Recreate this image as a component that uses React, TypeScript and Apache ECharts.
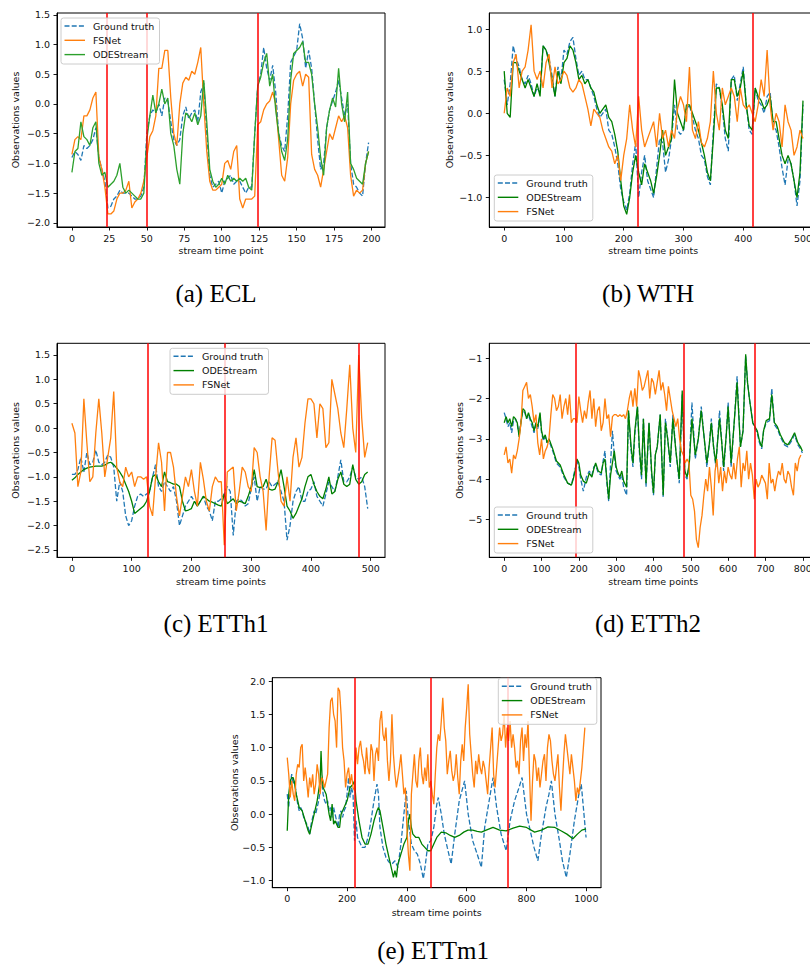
import React, { useEffect, useRef } from "react";
import * as echarts from "echarts";

// ---------------- (a) ECL : values every 2 time points (t = 0..198)
const ECL_STEP = 2;
const ECL_GROUND_TRUTH = [
  -0.9, -0.8, -0.85, -0.95, -0.7, -0.75, -0.7, -0.6, -0.4, -0.9,
  -1.1, -1.3, -1.75, -1.72, -1.6, -1.55, -1.45, -1.5, -1.5, -1.5,
  -1.55, -1.6, -1.6, -1.55, -1.4, -0.5, -0.2, -0.1, -0.15, 0.0,
  -0.2, 0.1, 0.05, -0.3, -0.6, -0.7, -0.6, -0.2, -0.05, -0.25,
  -0.15, -0.1, -0.3, 0.2, 0.35, -0.5, -1.2, -1.4, -1.35, -1.3,
  -1.5, -1.3, -1.25, -1.2, -1.35, -1.3, -1.3, -1.4, -1.5, -1.4,
  -1.4, -0.5, 0.3, 0.5, 0.95, 0.6, 0.4, 0.65, 0.2, -0.5,
  -0.7, -0.8, -0.2, 0.7, 0.8, 0.9, 1.35, 1.1, 0.6, 0.9,
  0.6, 0.0, -0.6, -1.1, -1.0, -0.4, -0.1, 0.05, 0.2, 0.4,
  0.1, -0.2, 0.0, -1.0, -1.35, -1.4, -1.5, -1.55, -1.0, -0.65,
];
const ECL_FSNET = [
  -0.85, -0.6, -0.55, -0.6, -0.2, -0.2, -0.1, 0.1, 0.2, -0.9,
  -1.1, -1.4, -1.85, -1.85, -1.8, -1.6, -1.5, -1.5, -1.45, -1.3,
  -1.75, -1.65, -1.6, -1.5, -1.3, -0.9, -0.55, -0.45, -0.2, 0.6,
  0.6, 0.9, 0.9, 0.1, -0.5, -0.7, 0.0, 0.35, 0.45, 0.4,
  0.55, 0.5, 0.7, 0.95, 0.0, -0.8, -1.3, -1.45, -1.45, -1.4,
  -1.35, -1.0, -0.95, -1.1, -0.8, -0.7, -1.6, -1.75, -1.6, -1.6,
  -1.6, -1.55, -0.35, -0.3, -0.1, 0.0, 0.05, 0.2, 0.0, -0.6,
  -1.2, -1.3, -0.9, 0.0, 0.4, 0.5, 0.55, 0.3, 0.5, 0.45,
  -0.85, -1.1, -1.2, -1.4, -1.1, -0.8, -0.5, -0.6, -0.4, -0.2,
  -0.3, -0.2, -0.4, -1.2, -1.55, -1.45, -1.5, -1.45, -1.0, -0.8,
];
const ECL_ODESTREAM = [
  -1.15, -0.8, -0.75, -0.3, -0.55, -0.6, -0.7, -0.4, -0.3, -1.0,
  -1.2, -1.15, -1.4, -1.35, -1.3, -1.2, -1.0, -1.4, -1.5, -1.45,
  -1.5, -1.55, -1.6, -1.6, -1.5, -0.6, -0.2, 0.15, -0.15, 0.0,
  0.25, 0.0, 0.1, -0.5, -0.7, -1.1, -1.35, -0.5, -0.15, -0.2,
  -0.3, -0.15, -0.35, -0.2, 0.4, -0.3, -1.1, -1.3, -1.4, -1.35,
  -1.25, -1.35, -1.2, -1.3, -1.25, -1.3, -1.25, -1.3, -1.25, -1.4,
  -1.45, -0.5, 0.3, 0.45, 0.7, 0.85, 0.3, 0.5, -0.1, -0.5,
  -0.8, -0.95, -0.6, 0.4, 0.85, 0.9, 0.95, 1.05, 0.7, 0.7,
  0.5, 0.0, -0.4, -0.9, -1.2, -0.4, -0.1, 0.1, -0.05, 0.6,
  0.0, -0.3, 0.2, -1.0, -1.1, -1.25, -1.3, -1.35, -1.0, -0.8,
];
const ECL_DRIFTS = [23.5, 50, 124];
const ECL_X_TICKS = [0, 25, 50, 75, 100, 125, 150, 175, 200];
const ECL_Y_TICKS = [-2.0, -1.5, -1.0, -0.5, 0.0, 0.5, 1.0, 1.5];

// ---------------- (b) WTH : values every 5 time points (t = 0..500)
const WTH_STEP = 5;
const WTH_GROUND_TRUTH = [
  0.4, 0.1, 0.35, 0.8, 0.65, 0.55, 0.4, 0.35, 0.45, 0.35,
  0.2, 0.3, 0.25, 0.8, 0.75, 0.65, 0.45, 0.2, 0.55, 0.4,
  0.75, 0.7, 0.85, 0.9, 0.65, 0.45, 0.5, 0.4, 0.4, 0.3,
  0.2, 0.05, -0.05, 0.0, 0.05, -0.2, -0.25, -0.4, -0.6, -0.9,
  -1.05, -1.15, -0.95, -0.6, -0.35, -1.0, -0.7, -0.5, -0.8, -0.9,
  -1.0, -0.65, -0.3, -0.35, -0.7, -0.55, -0.3, 0.1, -0.2, -0.25,
  -0.2, 0.05, 0.1, -0.05, -0.2, -0.3, -0.5, -0.55, -0.75, -0.85,
  -0.2, 0.35, 0.3, 0.05, -0.3, -0.45, 0.4, 0.45, 0.15, 0.35,
  0.55, 0.1, -0.2, -0.25, 0.3, 0.15, 0.1, 0.0, 0.2, 0.25,
  -0.15, -0.2, -0.4, -0.65, -0.85, -0.55, -0.6, -0.8, -1.1, -0.8,
  0.1,
];
const WTH_ODESTREAM = [
  0.5, 0.0, -0.05, 0.6, 0.6, 0.5, 0.4, 0.3, 0.4, 0.3,
  0.2, 0.35, 0.2, 0.8, 0.75, 0.6, 0.4, 0.2, 0.5, 0.35,
  0.6, 0.65, 0.8, 0.75, 0.6, 0.4, 0.45, 0.35, 0.4, 0.3,
  0.25, 0.1, 0.0, 0.05, 0.1, -0.05, -0.1, -0.25, -0.45, -0.8,
  -1.1, -1.2, -1.0, -0.7, -0.5, -0.7, -0.85, -0.6, -0.7, -0.8,
  -0.95, -0.75, -0.5, -0.2, -0.5, -0.4, -0.3, 0.4, 0.0, -0.1,
  -0.2, 0.1, 0.1, 0.0, -0.1, -0.2, -0.35, -0.5, -0.7, -0.8,
  -0.3, 0.3, 0.3, 0.1, -0.2, -0.3, 0.4, 0.4, 0.2, 0.3,
  0.5, 0.1, -0.15, -0.2, 0.3, 0.2, 0.15, 0.05, 0.1, 0.2,
  -0.1, -0.1, -0.3, -0.5, -0.6, -0.5, -0.6, -0.8, -1.0, -0.7,
  0.15,
];
const WTH_FSNET = [
  0.0, 0.3, 0.2, 0.6, 0.7, 0.3, 0.5, 0.55, 0.75, 1.05,
  0.5, 0.4, 0.5, 0.3, 0.6, 0.7, 0.3, 0.55, 0.35, 0.4,
  0.5, 0.45, 0.3, 0.25, 0.3, 0.4, 0.35, 0.2, 0.05, -0.15,
  0.05, 0.0, -0.05, -0.2, -0.3, -0.4, -0.45, -0.6, -0.5, -0.8,
  -0.5, -0.3, 0.1, -0.2, -0.4, 0.2, -0.2, -0.4, -0.3, -0.2,
  -0.1, -0.4, 0.0, -0.3, -0.2, -0.4, -0.2, -0.3, 0.05, 0.2,
  0.1, -0.1, 0.55, -0.2, -0.3, -0.1, -0.35, -0.4, -0.3, -0.1,
  0.5, 0.0, -0.2, 0.3, 0.1, 0.2, 0.3, 0.2, -0.1, 0.3,
  0.1, 0.05, 0.1, 0.0, -0.1, 0.1, 0.4, 0.2, 0.75, 0.1,
  -0.2, 0.0, -0.1, -0.4, 0.1, -0.1, -0.2, -0.5, -0.4, -0.2,
  -0.3,
];
const WTH_DRIFTS = [223.5, 416];
const WTH_X_TICKS = [0, 100, 200, 300, 400, 500];
const WTH_Y_TICKS = [-1.0, -0.5, 0.0, 0.5, 1.0];

// ---------------- (c) ETTh1 : values every 5 time points (t = 0..495)
const ETTH1_STEP = 5;
const ETTH1_GROUND_TRUTH = [
  -0.95, -0.95, -0.85, -0.6, -0.9, -0.5, -0.75, -0.7, -0.45, -0.7,
  -0.75, -0.7, -0.55, -0.6, -0.8, -1.5, -1.1, -1.3, -1.8, -2.0,
  -1.9, -1.6, -1.4, -1.35, -1.4, -1.35, -1.3, -1.0, -0.75, -1.2,
  -1.3, -1.1, -1.2, -1.3, -1.2, -1.5, -2.0, -1.8, -1.6, -1.5,
  -1.4, -1.5, -1.6, -1.5, -1.4, -1.6, -1.7, -1.9, -1.5, -1.5,
  -1.45, -1.35, -1.2, -1.3, -2.2, -1.5, -1.45, -1.5, -1.6, -1.55,
  -1.25, -1.0, -1.5, -1.2, -1.25, -1.25, -1.1, -1.2, -1.15, -1.1,
  -1.3, -1.5, -2.3, -2.0, -1.5, -1.3, -1.2, -1.5, -1.5, -1.3,
  -1.25, -1.1, -1.4, -1.5, -1.6, -1.35, -1.1, -1.2, -1.3, -1.0,
  -0.65, -1.1, -1.1, -1.0, -0.8, -1.0, -1.05, -1.0, -1.2, -1.65,
];
const ETTH1_ODESTREAM = [
  -1.07, -1.02, -0.95, -0.9, -0.85, -0.82, -0.8, -0.79, -0.78, -0.78,
  -0.78, -0.76, -0.72, -0.7, -0.75, -0.82, -0.9, -1.0, -1.15, -1.3,
  -1.5, -1.75, -1.7, -1.65, -1.6, -1.5, -1.3, -1.0, -0.95, -1.1,
  -1.2, -0.9, -1.1, -1.12, -1.15, -1.15, -1.2, -1.5, -1.7, -1.68,
  -1.65, -1.5, -1.6, -1.5, -1.4, -1.45, -1.5, -1.52, -1.55, -1.58,
  -1.6, -1.35, -1.55, -1.5, -1.45, -1.55, -1.5, -1.52, -1.55, -1.4,
  -1.2, -0.85, -1.2, -1.22, -1.2, -1.05, -1.25, -1.27, -1.25, -1.1,
  -0.85, -1.2, -1.6, -1.7, -1.85, -1.75, -1.6, -1.45, -1.2, -1.0,
  -0.95, -1.15, -1.3, -1.4, -1.45, -1.25, -1.0, -1.35, -1.3, -1.05,
  -0.9, -1.15, -1.2, -1.15, -0.75, -1.05, -1.15, -1.1, -0.95, -0.9,
];
const ETTH1_FSNET = [
  0.1, -0.1, -1.2, -0.9, 0.6, -0.3, -1.1, -1.0, -0.1, 0.6,
  -0.1, -1.0, -0.6, -0.2, 0.75, -0.8, -1.1, -1.2, -0.8, -1.0,
  -0.9, -1.2, -1.0, -1.0, -1.05, -1.0, -1.6, -1.8, -1.0, -0.3,
  -0.7, -1.7, -0.5, -0.5, -0.8, -1.4, -1.8, -1.4, -1.0, -1.2,
  -0.85, -1.3, -1.6, -0.7, -1.05, -1.5, -1.7, -1.2, -1.0, -1.1,
  -1.1, -2.4, -0.9, -0.85, -0.8, -1.7, -1.3, -0.8, -0.9, -1.2,
  -1.3, -0.4, -0.5, -1.0, -1.3, -2.1, -1.0, -0.2, -0.25, -0.9,
  -1.5, -1.6, -1.0, -1.5, -0.6, -0.2, -0.8, -0.6, 0.1, 0.6,
  0.6, 0.5, -0.2, 0.5, 0.4, -0.4, -0.3, 1.0, 0.7, 0.4,
  -0.1, -0.4, 0.4, 1.3, 0.0, -0.5, 1.5, 0.2, -0.6, -0.3,
];
const ETTH1_DRIFTS = [127.5, 255.5, 479.5];
const ETTH1_X_TICKS = [0, 100, 200, 300, 400, 500];
const ETTH1_Y_TICKS = [-2.5, -2.0, -1.5, -1.0, -0.5, 0.0, 0.5, 1.0, 1.5];

// ---------------- (d) ETTh2 : [time point, value]
const ETTH2_GROUND_TRUTH = [
  [0, -2.35], [5, -2.5], [10, -2.7], [15, -2.6], [20, -2.85], [25, -2.55], [30, -2.5], [35, -2.65], [40, -2.9], [45, -2.55],
  [50, -2.3], [55, -2.35], [60, -2.5], [65, -2.4], [70, -2.55], [75, -2.7], [80, -2.85], [85, -2.65], [90, -2.75], [96, -2.4],
  [100, -2.85], [105, -3.05], [110, -2.95], [115, -3.1], [120, -3.05], [130, -3.3], [140, -3.6], [150, -3.7], [160, -3.95], [170, -4.1],
  [180, -4.15], [185, -3.95], [190, -3.75], [195, -3.55], [200, -3.7], [205, -4.0], [212, -4.3], [220, -3.95], [228, -3.8], [235, -3.9],
  [240, -3.7], [245, -3.65], [252, -3.85], [260, -3.9], [265, -3.55], [270, -3.3], [275, -4.1], [280, -4.55], [285, -3.6], [290, -2.8],
  [295, -3.4], [300, -3.8], [305, -3.9], [310, -4.0], [315, -3.9], [320, -4.2], [328, -4.4], [333, -2.3], [340, -3.3], [345, -3.7],
  [350, -2.9], [357, -2.2], [362, -3.3], [368, -4.0], [373, -2.5], [380, -4.2], [388, -2.6], [395, -3.9], [400, -4.4], [405, -3.4],
  [410, -3.2], [418, -2.4], [426, -4.45], [432, -2.5], [438, -3.0], [445, -3.7], [452, -2.4], [460, -3.3], [469, -4.1], [477, -1.9],
  [484, -3.9], [490, -4.0], [496, -3.6], [503, -2.1], [512, -3.5], [520, -3.0], [528, -2.2], [535, -2.9], [543, -3.7], [550, -3.1],
  [555, -2.5], [561, -3.2], [567, -3.7], [577, -2.3], [583, -3.1], [588, -3.8], [595, -2.9], [600, -2.1], [608, -3.7], [617, -2.5],
  [624, -1.45], [633, -3.2], [640, -2.8], [647, -0.95], [652, -1.6], [657, -2.0], [666, -2.6], [672, -2.75], [678, -2.85], [684, -3.1],
  [690, -3.25], [695, -2.8], [702, -2.6], [711, -2.55], [717, -1.75], [724, -2.65], [732, -2.75], [740, -2.95], [751, -3.15], [760, -3.2],
  [770, -3.05], [778, -2.9], [787, -3.15], [794, -3.25], [799, -3.35],
];
const ETTH2_ODESTREAM = [
  [0, -2.6], [5, -2.45], [10, -2.6], [15, -2.5], [20, -2.7], [25, -2.45], [30, -2.5], [35, -2.6], [40, -2.95], [45, -2.6],
  [50, -2.25], [55, -2.3], [60, -2.5], [65, -2.35], [70, -2.5], [75, -2.6], [80, -2.8], [85, -2.6], [90, -2.7], [96, -2.35],
  [100, -2.8], [105, -3.0], [110, -2.9], [115, -3.1], [120, -3.0], [130, -3.25], [140, -3.55], [150, -3.65], [160, -3.9], [170, -4.1],
  [180, -4.15], [185, -4.0], [190, -3.8], [195, -3.5], [200, -3.6], [205, -3.9], [212, -4.05], [220, -4.1], [228, -3.85], [235, -3.95],
  [240, -3.75], [245, -3.6], [252, -3.8], [260, -3.85], [265, -3.6], [270, -3.5], [275, -4.0], [280, -4.5], [285, -3.9], [290, -3.6],
  [295, -3.3], [300, -3.7], [305, -3.85], [310, -3.95], [315, -3.8], [320, -4.05], [328, -4.2], [333, -2.3], [340, -3.2], [345, -3.6],
  [350, -2.8], [357, -2.2], [362, -3.2], [368, -3.9], [373, -2.5], [380, -4.1], [388, -2.6], [395, -3.8], [400, -4.35], [405, -3.4],
  [410, -3.2], [418, -2.4], [426, -4.4], [432, -2.6], [438, -3.0], [445, -3.6], [452, -2.5], [460, -3.3], [469, -4.0], [477, -1.8],
  [484, -3.8], [490, -3.95], [496, -3.6], [503, -2.5], [512, -3.4], [520, -3.0], [528, -2.3], [535, -2.9], [543, -3.6], [550, -3.1],
  [555, -2.6], [561, -3.2], [567, -3.6], [577, -2.5], [583, -3.1], [588, -3.7], [595, -2.9], [600, -2.2], [608, -3.6], [617, -2.5],
  [624, -1.6], [633, -3.2], [640, -2.8], [647, -0.9], [652, -1.6], [657, -2.0], [666, -2.6], [672, -2.7], [678, -2.8], [684, -3.05],
  [690, -3.2], [695, -2.8], [702, -2.55], [711, -2.5], [717, -1.9], [724, -2.6], [732, -2.7], [740, -2.9], [751, -3.1], [760, -3.15],
  [770, -3.0], [778, -2.85], [787, -3.1], [794, -3.2], [799, -3.3],
];
const ETTH2_FSNET_STEP = 5;
const ETTH2_FSNET = [
  -3.4, -3.2, -3.6, -3.5, -3.85, -3.4, -3.5, -3.3, -3.0, -2.6,
  -1.8, -1.7, -1.6, -2.0, -1.9, -2.2, -2.6, -2.4, -3.1, -3.4,
  -3.0, -3.5, -3.3, -3.2, -3.0, -2.4, -1.9, -2.0, -2.3, -2.2,
  -1.9, -2.5, -2.2, -2.0, -2.4, -1.9, -2.6, -2.5, -2.5, -2.6,
  -1.95, -2.3, -2.6, -2.3, -2.5, -2.1, -1.8, -2.5, -2.0, -2.7,
  -2.3, -2.2, -2.8, -2.6, -2.0, -2.5, -2.4, -2.95, -2.45, -2.4,
  -2.4, -2.45, -2.4, -2.45, -2.4, -2.5, -2.3, -2.0, -1.8, -2.2,
  -1.75, -2.2, -1.3, -1.5, -1.8, -1.7, -1.5, -1.3, -2.0, -1.5,
  -1.6, -1.9, -1.6, -1.3, -1.8, -1.6, -1.9, -2.3, -1.7, -2.0,
  -2.3, -2.5, -2.7, -2.5, -3.0, -3.3, -3.4, -3.6, -3.5, -3.6,
  -4.4, -4.5, -4.8, -5.5, -5.7, -5.2, -4.9, -4.4, -4.0, -4.3,
  -3.7, -4.2, -4.9, -3.8, -3.5, -4.1, -3.7, -4.3, -3.8, -4.1,
  -3.7, -3.9, -4.0, -3.6, -4.0, -3.5, -3.2, -4.2, -3.6, -3.8,
  -3.3, -4.0, -3.6, -3.9, -4.5, -4.0, -4.2, -4.1, -3.9, -4.0,
  -4.1, -4.5, -3.6, -4.1, -4.0, -4.3, -4.0, -3.8, -3.9, -3.6,
  -4.0, -4.1, -3.8, -3.9, -4.2, -4.4, -3.6, -3.8, -3.5, -3.4,
];
const ETTH2_DRIFTS = [192.5, 480.5, 672];
const ETTH2_X_TICKS = [0, 100, 200, 300, 400, 500, 600, 700, 800];
const ETTH2_Y_TICKS = [-5, -4, -3, -2, -1];

// ---------------- (e) ETTm1
const ETTM1_GROUND_TRUTH = [
  [0, 0.3], [5, 0.1], [10, 0.45], [15, 0.6], [20, 0.45], [25, 0.5], [30, 0.3], [35, 0.15], [40, 0.05], [45, 0.1],
  [50, 0.05], [55, -0.05], [60, -0.1], [65, -0.15], [70, -0.2], [75, -0.3], [80, -0.15], [85, -0.05], [90, 0.05], [95, 0.0],
  [100, 0.1], [105, 0.2], [110, 0.35], [115, 0.55], [120, 0.3], [125, 0.2], [130, 0.15], [135, 0.2], [140, 0.05], [145, 0.1],
  [150, -0.05], [155, 0.1], [160, 0.0], [165, -0.1], [170, -0.2], [175, 0.0], [180, 0.05], [185, -0.05], [190, 0.05], [195, 0.1],
  [200, 0.3], [205, 0.55], [210, 0.25], [215, 0.4], [220, 0.3], [225, -0.4], [230, -0.1], [235, -0.35], [240, -0.4], [245, -0.45],
  [250, -0.5], [260, -0.5], [270, -0.35], [280, -0.1], [290, 0.2], [300, 0.45], [305, 0.3], [310, -0.2], [320, -0.5], [330, -0.65],
  [340, -0.72], [350, -0.75], [360, -0.7], [370, -0.8], [380, -0.45], [390, 0.0], [398, 0.35], [405, -0.1], [415, -0.45], [425, -0.55],
  [435, -0.6], [445, -0.75], [455, -0.97], [462, -0.75], [470, -0.45], [480, -0.4], [490, -0.2], [500, 0.15], [505, 0.25], [515, 0.0],
  [525, -0.3], [535, -0.5], [548, -0.75], [560, -0.3], [575, 0.2], [593, 0.5], [605, 0.0], [620, -0.4], [635, -0.6], [649, -0.8],
  [660, -0.2], [675, 0.2], [688, 0.55], [700, 0.1], [715, -0.3], [732, -0.55], [745, -0.1], [760, 0.2], [775, 0.4], [785, 0.55],
  [800, 0.0], [815, -0.3], [825, -0.5], [838, -0.7], [850, -0.3], [865, 0.1], [875, 0.3], [883, 0.5], [895, 0.0], [910, -0.4],
  [920, -0.7], [933, -0.95], [945, -0.6], [960, -0.1], [975, 0.3], [983, 0.45], [990, 0.1], [999, -0.35],
];
const ETTM1_ODESTREAM = [
  [0, -0.25], [5, 0.3], [10, 0.5], [15, 0.55], [20, 0.55], [25, 0.45], [30, 0.3], [40, 0.1], [50, 0.05], [60, -0.1],
  [70, -0.25], [75, -0.3], [80, -0.2], [90, 0.0], [100, 0.2], [110, 0.5], [113, 0.95], [116, 0.6], [120, 0.4], [130, 0.3],
  [140, 0.0], [145, -0.1], [150, 0.15], [155, -0.15], [160, -0.1], [170, -0.2], [175, -0.2], [180, 0.0], [190, 0.1], [200, 0.2],
  [210, 0.4], [220, 0.45], [225, 0.5], [230, 0.2], [240, -0.1], [250, -0.35], [260, -0.45], [270, -0.45], [280, -0.3], [290, -0.1],
  [300, 0.05], [305, 0.1], [310, 0.05], [320, -0.2], [330, -0.45], [340, -0.65], [350, -0.85], [355, -0.95], [360, -0.85], [365, -0.95],
  [370, -0.75], [380, -0.6], [390, -0.45], [400, -0.35], [405, -0.1], [410, 0.0], [415, -0.2], [420, -0.3], [430, -0.35], [440, -0.35],
  [450, -0.45], [460, -0.5], [470, -0.55], [480, -0.55], [490, -0.45], [500, -0.35], [515, -0.27], [530, -0.28], [545, -0.32], [560, -0.35],
  [575, -0.32], [590, -0.27], [604, -0.24], [620, -0.24], [635, -0.26], [649, -0.27], [665, -0.24], [688, -0.2], [710, -0.24], [732, -0.25],
  [755, -0.21], [777, -0.18], [800, -0.2], [827, -0.27], [850, -0.24], [872, -0.19], [895, -0.2], [915, -0.25], [935, -0.3], [955, -0.37],
  [970, -0.3], [985, -0.24], [999, -0.22],
];
const ETTM1_FSNET_STEP = 5;
const ETTM1_FSNET = [
  0.85, 0.6, 0.25, 0.5, 0.3, 0.2, 0.6, 0.75, 0.7, 1.0,
  1.05, 0.5, 0.7, 0.5, 0.25, 0.55, 0.4, 0.6, 0.3, 0.45,
  0.75, 0.6, 0.3, 0.55, 0.5, 0.4, 0.5, 0.6, 1.3, 1.7,
  1.75, 1.5, 1.4, 1.0, 1.9, 1.85, 1.5, 1.0, 0.8, 0.4,
  0.6, 0.7, 0.45, 0.6, 0.4, 0.35, 1.0, 0.75, 1.0, 1.1,
  0.9, 0.8, 0.6, 1.0, 0.7, 0.6, 1.05, 0.95, 0.5, 0.9,
  1.0, 0.8, 1.4, 1.55, 1.2, 1.1, 1.3, 0.8, 0.5, 0.8,
  1.5, 0.9, 0.6, 0.4, 0.55, 0.7, 0.9, 0.6, 0.3, 0.4,
  -0.2, -0.6, -0.85, 0.3, 0.6, 0.9, 0.5, 0.4, 0.8, 1.0,
  0.6, 0.45, 0.7, 0.5, 0.9, 0.4, 0.5, 0.3, 0.15, 0.6,
  1.0, 1.2, 1.1, 1.4, 1.75, 1.3, 1.1, 0.6, 0.8, 0.95,
  0.65, 0.5, 0.6, 0.9, 0.55, 0.3, 0.8, 1.05, 0.8, 1.3,
  1.6, 1.95, 1.2, 0.9, 0.6, 0.4, 0.8, 0.6, 0.9, 0.7,
  0.6, 0.8, 0.7, 0.5, 0.3, 0.7, 1.0, 1.3, 0.6, 0.4,
  0.7, 1.0, 1.3, 1.1, 1.2, 1.5, 1.0, 1.3, 1.1, 1.4,
  1.0, 1.2, 1.0, 0.7, 0.8, 0.6, 1.1, 1.3, 0.8, 1.2,
  1.0, 1.4, 0.6, -0.1, 0.5, 0.9, 0.8, 0.5, 0.7, 0.4,
  0.6, 0.8, 0.9, 0.5, 1.0, 1.2, 1.1, 0.8, 0.6, 0.5,
  0.7, 0.9, 0.4, 0.05, 0.5, 0.9, 1.2, 1.0, 0.8, 0.6,
  0.9, 0.7, 0.5, 0.2, 0.4, 0.3, 0.5, 0.7, 1.0, 1.3,
];
const ETTM1_DRIFTS = [225, 480, 736];
const ETTM1_X_TICKS = [0, 200, 400, 600, 800, 1000];
const ETTM1_Y_TICKS = [-1.0, -0.5, 0.0, 0.5, 1.0, 1.5, 2.0];

// ---------------- labels
const LABEL_GT = "Ground truth";
const LABEL_FS = "FSNet";
const LABEL_ODE = "ODEStream";
const Y_NAME = "Observations values";

const onGrid = (values: number[], step: number) => values.map((v, i) => [i * step, v]);

const BLUE = "#1f77b4";
const ORANGE = "#ff7f0e";
const GREEN_A = "#2ca02c";
const GREEN = "#008000";
const RED = "#ff0000";
const SANS = "DejaVu Sans";
const SERIF = "'Liberation Serif', 'DejaVu Serif', serif";

const fmt = (dec: number) => (v: number) => {
  const s = Math.abs(v).toFixed(dec);
  return (v < -1e-9 ? "\u2212" : "") + s;
};

type S = { name: string; data: number[][]; color: string; dashed?: boolean };
type Panel = {
  caption: string; captionPos: number[];
  xName: string; xNameY: number; yNameX: number;
  box: { left: number; top: number; width: number; height: number };
  xRange: number[]; yRange: number[];
  xTicks: number[]; yTicks: number[]; yDec: number;
  drifts: number[]; legend: number[]; series: S[];
};

const PANELS: Panel[] = [
  {
    caption: "(a) ECL", captionPos: [216, 293], xName: "stream time point", xNameY: 250, yNameX: 15,
    box: { left: 57, top: 13, width: 328, height: 214 },
    xRange: [-9.95, 208.95], yRange: [-2.07, 1.53], xTicks: ECL_X_TICKS, yTicks: ECL_Y_TICKS, yDec: 1,
    drifts: ECL_DRIFTS, legend: [61, 18],
    series: [
      { name: LABEL_GT, data: onGrid(ECL_GROUND_TRUTH, ECL_STEP), color: BLUE, dashed: true },
      { name: LABEL_FS, data: onGrid(ECL_FSNET, ECL_STEP), color: ORANGE },
      { name: LABEL_ODE, data: onGrid(ECL_ODESTREAM, ECL_STEP), color: GREEN_A },
    ],
  },
  {
    caption: "(b) WTH", captionPos: [648, 293], xName: "stream time points", xNameY: 250.5, yNameX: 449.5,
    box: { left: 489.3, top: 13, width: 328, height: 214 },
    xRange: [-24.95, 523.95], yRange: [-1.35, 1.19], xTicks: WTH_X_TICKS, yTicks: WTH_Y_TICKS, yDec: 1,
    drifts: WTH_DRIFTS, legend: [494.3, 175],
    series: [
      { name: LABEL_GT, data: onGrid(WTH_GROUND_TRUTH, WTH_STEP), color: BLUE, dashed: true },
      { name: LABEL_ODE, data: onGrid(WTH_ODESTREAM, WTH_STEP), color: GREEN },
      { name: LABEL_FS, data: onGrid(WTH_FSNET, WTH_STEP), color: ORANGE },
    ],
  },
  {
    caption: "(c) ETTh1", captionPos: [216, 623], xName: "stream time points", xNameY: 581.5, yNameX: 15,
    box: { left: 57, top: 343.3, width: 328, height: 214 },
    xRange: [-24.95, 523.95], yRange: [-2.65, 1.74], xTicks: ETTH1_X_TICKS, yTicks: ETTH1_Y_TICKS, yDec: 1,
    drifts: ETTH1_DRIFTS, legend: [170, 348.3],
    series: [
      { name: LABEL_GT, data: onGrid(ETTH1_GROUND_TRUTH, ETTH1_STEP), color: BLUE, dashed: true },
      { name: LABEL_ODE, data: onGrid(ETTH1_ODESTREAM, ETTH1_STEP), color: GREEN },
      { name: LABEL_FS, data: onGrid(ETTH1_FSNET, ETTH1_STEP), color: ORANGE },
    ],
  },
  {
    caption: "(d) ETTh2", captionPos: [648, 623], xName: "stream time points", xNameY: 581.5, yNameX: 459,
    box: { left: 489.3, top: 343.3, width: 328, height: 214 },
    xRange: [-39.95, 838.95], yRange: [-5.94, -0.63], xTicks: ETTH2_X_TICKS, yTicks: ETTH2_Y_TICKS, yDec: 0,
    drifts: ETTH2_DRIFTS, legend: [494.3, 507],
    series: [
      { name: LABEL_GT, data: ETTH2_GROUND_TRUTH, color: BLUE, dashed: true },
      { name: LABEL_ODE, data: ETTH2_ODESTREAM, color: GREEN },
      { name: LABEL_FS, data: onGrid(ETTH2_FSNET, ETTH2_FSNET_STEP), color: ORANGE },
    ],
  },
  {
    caption: "(e) ETTm1", captionPos: [433, 950.5], xName: "stream time points", xNameY: 912, yNameX: 234.3,
    box: { left: 272.3, top: 677.7, width: 328.7, height: 210 },
    xRange: [-49.95, 1048.95], yRange: [-1.105, 2.05], xTicks: ETTM1_X_TICKS, yTicks: ETTM1_Y_TICKS, yDec: 1,
    drifts: ETTM1_DRIFTS, legend: [498.3, 678.3],
    series: [
      { name: LABEL_GT, data: ETTM1_GROUND_TRUTH, color: BLUE, dashed: true },
      { name: LABEL_ODE, data: ETTM1_ODESTREAM, color: GREEN },
      { name: LABEL_FS, data: onGrid(ETTM1_FSNET, ETTM1_FSNET_STEP), color: ORANGE },
    ],
  },
];

const DASH = [5, 2.2];

export default function App() {
  const ref = useRef<HTMLDivElement>(null);
  useEffect(() => {
    if (!ref.current) return;
    const chart = echarts.init(ref.current, undefined, { renderer: "svg" });
    const grids: any[] = [];
    const xAxes: any[] = [];
    const yAxes: any[] = [];
    const series: any[] = [];
    const graphics: any[] = [];

    PANELS.forEach((p, i) => {
      const b = p.box;
      grids.push({ left: b.left, top: b.top, width: b.width, height: b.height, show: true, borderColor: "#000", borderWidth: 1, backgroundColor: "transparent" });
      const tickStyle = { color: "#000", width: 0.9 };
      xAxes.push({
        type: "value", gridIndex: i, min: p.xRange[0], max: p.xRange[1],
        axisLine: { show: true, onZero: false, lineStyle: { color: "#000", width: 1 } },
        axisTick: { show: true, customValues: p.xTicks, length: 3.5, lineStyle: tickStyle },
        axisLabel: { show: true, customValues: p.xTicks, margin: 6, fontFamily: SANS, fontSize: 9.5, color: "#111", formatter: (v: number) => fmt(0)(v) },
        splitLine: { show: false },
      });
      yAxes.push({
        type: "value", gridIndex: i, min: p.yRange[0], max: p.yRange[1],
        axisLine: { show: true, onZero: false, lineStyle: { color: "#000", width: 1 } },
        axisTick: { show: true, customValues: p.yTicks, length: 3.5, lineStyle: tickStyle },
        axisLabel: { show: true, customValues: p.yTicks, margin: 7, fontFamily: SANS, fontSize: 9.5, color: "#111", formatter: (v: number) => fmt(p.yDec)(v) },
        splitLine: { show: false },
      });
      p.series.forEach((s, j) => {
        const item: any = {
          type: "line", name: s.name, xAxisIndex: i, yAxisIndex: i, data: s.data,
          showSymbol: false, symbol: "none", silent: true, z: 2 + j,
          lineStyle: { color: s.color, width: 1.3, type: s.dashed ? DASH : "solid" },
          itemStyle: { color: s.color }, emphasis: { disabled: true },
        };
        if (j === p.series.length - 1) {
          item.markLine = {
            silent: true, symbol: ["none", "none"], label: { show: false }, animation: false,
            lineStyle: { color: RED, width: 1.5, type: "solid" }, emphasis: { disabled: true },
            data: p.drifts.map((d) => ({ xAxis: d })),
          };
        }
        series.push(item);
      });

      // legend
      const [lx, ly] = p.legend;
      graphics.push({ type: "rect", z: 100, shape: { x: lx, y: ly, width: 98.5, height: 46, r: 2.5 }, style: { fill: "rgba(255,255,255,0.8)", stroke: "#cccccc", lineWidth: 1 } });
      p.series.forEach((s, j) => {
        const yy = ly + 8 + j * 14.3;
        graphics.push({ type: "line", z: 101, shape: { x1: lx + 3.5, y1: yy, x2: lx + 24, y2: yy }, style: { stroke: s.color, lineWidth: 1.4, lineDash: s.dashed ? DASH : null } });
        graphics.push({ type: "text", z: 101, x: lx + 32, y: yy, style: { text: s.name, fontFamily: SANS, fontSize: 9.5, fill: "#111", align: "left", verticalAlign: "middle" } });
      });
      // axis names
      graphics.push({ type: "text", z: 101, x: b.left + b.width / 2, y: p.xNameY, style: { text: p.xName, fontFamily: SANS, fontSize: 9.5, fill: "#111", align: "center", verticalAlign: "middle" } });
      graphics.push({ type: "text", z: 101, x: p.yNameX, y: b.top + b.height / 2, rotation: Math.PI / 2, style: { text: Y_NAME, fontFamily: SANS, fontSize: 9.5, fill: "#111", align: "center", verticalAlign: "middle" } });
      // caption
      graphics.push({ type: "text", z: 101, x: p.captionPos[0], y: p.captionPos[1], style: { text: p.caption, fontFamily: SERIF, fontSize: 25, fill: "#000", align: "center", verticalAlign: "middle" } });
    });

    chart.setOption({
      animation: false,
      backgroundColor: "#ffffff",
      grid: grids,
      xAxis: xAxes,
      yAxis: yAxes,
      series,
      graphic: { elements: graphics },
    });
    return () => chart.dispose();
  }, []);
  return (
    <div style={{ position: "absolute", left: 0, top: 0, width: 810, height: 966, overflow: "hidden", background: "#fff" }}>
      <div ref={ref} style={{ position: "absolute", left: 0, top: 0, width: 840, height: 966 }} />
    </div>
  );
}
